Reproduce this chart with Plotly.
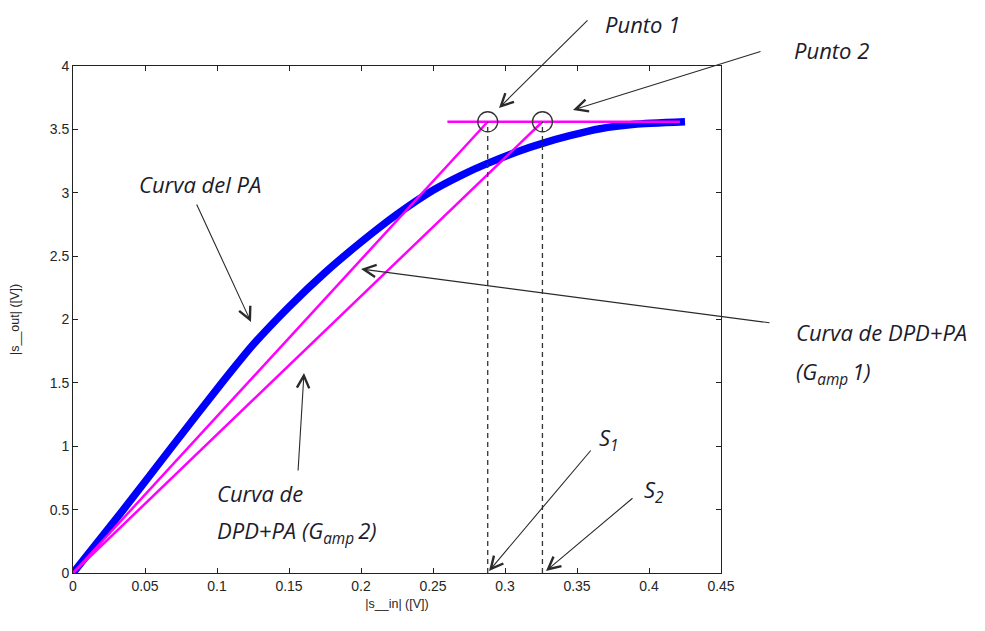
import plotly.graph_objects as go

# ---- data ----
pa_x = [0, 0.035, 0.069, 0.102, 0.125, 0.15, 0.175, 0.2, 0.225, 0.25, 0.27, 0.2875, 0.31, 0.326, 0.345, 0.366, 0.39, 0.425]
pa_y = [0, 0.5, 1.0, 1.48, 1.8, 2.1, 2.37, 2.61, 2.83, 3.02, 3.14, 3.23, 3.33, 3.39, 3.45, 3.505, 3.54, 3.56]

g1_x = [0, 0.288]
g1_y = [0, 3.56]
g2_x = [0, 0.326]
g2_y = [0, 3.56]
sat_x = [0.26, 0.4215]
sat_y = [3.56, 3.56]

pts_x = [0.288, 0.326]
pts_y = [3.56, 3.56]

x_ticks = [0, 0.05, 0.1, 0.15, 0.2, 0.25, 0.3, 0.35, 0.4, 0.45]
x_tick_text = ["0", "0.05", "0.1", "0.15", "0.2", "0.25", "0.3", "0.35", "0.4", "0.45"]
y_ticks = [0, 0.5, 1, 1.5, 2, 2.5, 3, 3.5, 4]
y_tick_text = ["0", "0.5", "1", "1.5", "2", "2.5", "3", "3.5", "4"]

# page pixel geometry of the plot area (used only to place annotations)
OFF = 8  # default body margin of the html page
W, H = 985 - OFF, 631 - OFF
L, R, T, B = 73, 721, 66, 573
def dx(px):
    return (px - L) / (R - L) * 0.45
def dy(py):
    return (B - py) / (B - T) * 4.0
def pxp(px):
    return (px - L) / (R - L)
def pyp(py):
    return (B - py) / (B - T)

fig = go.Figure()

fig.add_trace(go.Scatter(x=pa_x, y=pa_y, mode="lines",
                         line=dict(color="#0000ff", width=7.5, shape="spline", smoothing=0.5), hoverinfo="skip"))
fig.add_trace(go.Scatter(x=g1_x, y=g1_y, mode="lines", line=dict(color="#ff00ff", width=2.5), hoverinfo="skip"))
fig.add_trace(go.Scatter(x=g2_x, y=g2_y, mode="lines", line=dict(color="#ff00ff", width=2.5), hoverinfo="skip"))
fig.add_trace(go.Scatter(x=sat_x, y=sat_y, mode="lines", line=dict(color="#ff00ff", width=2.5), hoverinfo="skip"))

for px_, py_ in zip(pts_x, pts_y):
    fig.add_trace(go.Scatter(x=[px_, px_], y=[0, py_], mode="lines",
                             line=dict(color="#333333", width=1.3, dash="5px,4px"), hoverinfo="skip"))
fig.add_trace(go.Scatter(x=pts_x, y=pts_y, mode="markers",
                         marker=dict(symbol="circle-open", size=20, color="#333333", line=dict(width=1.3)),
                         hoverinfo="skip"))

txt_font = dict(family="Open Sans", size=22, color="#1c1c2c")
arrow_col = "#2a2a2a"

# arrows: (head px, head py, tail px, tail py) in page pixels
arrows = [
    (499, 108, 589, 19),
    (573, 110, 762, 51),
    (251, 322, 196, 203),
    (361, 269, 771, 323),
    (304, 373, 298, 472),
    (489, 571, 592, 449),
    (546, 571, 634, 497),
]
anns = []
for hx, hy, tx, ty in arrows:
    anns.append(dict(x=dx(hx), y=dy(hy), xref="x", yref="y", ax=tx - hx, ay=ty - hy,
                     axref="pixel", ayref="pixel", text="", showarrow=True,
                     arrowhead=5, arrowsize=2.2, arrowwidth=1.1, arrowcolor=arrow_col,
                     standoff=0, startstandoff=0))

texts = [
    (642, 24, "<i>Punto 1</i>", "center"),
    (831, 50, "<i>Punto 2</i>", "center"),
    (200, 184, "<i>Curva del PA</i>", "center"),
    (794, 332, "<i>Curva de DPD+PA</i>", "left"),
    (794, 373, "<i>(G<sub>amp </sub>1)</i>", "left"),
    (215, 493, "<i>Curva de</i>", "left"),
    (215, 532, "<i>DPD+PA (G<sub>amp </sub>2)</i>", "left"),
    (597, 439, "<i>S<sub>1</sub></i>", "left"),
    (642, 491, "<i>S<sub>2</sub></i>", "left"),
]
for px_, py_, t, al in texts:
    anns.append(dict(x=pxp(px_), y=pyp(py_), xref="paper", yref="paper",
                     text=t, showarrow=False, xanchor=al, yanchor="middle", font=txt_font))

fig.update_layout(
    width=W, height=H,
    margin=dict(l=L - OFF, r=W - (R - OFF), t=T - OFF, b=H - (B - OFF), autoexpand=False),
    paper_bgcolor="white", plot_bgcolor="white",
    showlegend=False,
    annotations=anns,
    font=dict(family="Liberation Sans, Arial", size=14, color="#262626"),
)
fig.update_xaxes(range=[0, 0.45], tickvals=x_ticks, ticktext=x_tick_text,
                 showgrid=False, zeroline=False, showline=True, linecolor="#222222", linewidth=1,
                 mirror="ticks", ticks="inside", ticklen=5, tickcolor="#222222",
                 title=dict(text="|s__in| ([V])", font=dict(size=12.5), standoff=6))
fig.update_yaxes(range=[0, 4], tickvals=y_ticks, ticktext=y_tick_text,
                 showgrid=False, zeroline=False, showline=True, linecolor="#222222", linewidth=1,
                 mirror="ticks", ticks="inside", ticklen=5, tickcolor="#222222",
                 title=dict(text="|s__out| ([V])", font=dict(size=12.5), standoff=30))

fig.write_html("out.html")
